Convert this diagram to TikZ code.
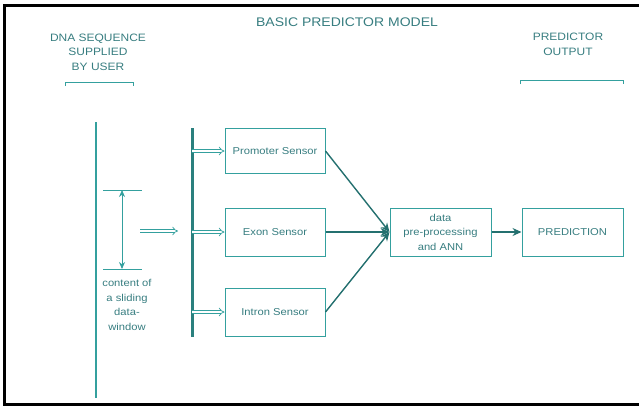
\documentclass[tikz,border=0pt]{standalone}
\usepackage{fontspec}
\setmainfont{Liberation Sans}[FakeStretch=1.12]
\usetikzlibrary{arrows.meta}
\definecolor{tealc}{RGB}{52,160,158}
\definecolor{tealt}{RGB}{55,125,128}
\tikzset{
  box/.style={draw=tealc, line width=1pt, minimum width=100pt, minimum height=48pt, text=tealt, font=\fontsize{10}{14.5}\selectfont, align=center, inner sep=1pt},
  lbl/.style={text=tealt, font=\fontsize{10}{14.5}\selectfont, align=center, inner sep=0pt},
  thin/.style={draw=tealc, line width=0.8pt},
  hollow/.style={draw=tealc, double=white, double distance=2.2pt, line width=0.7pt, -{Implies}},
  feed/.style={draw=tealc!70!black, line width=1.4pt, -{Stealth[length=9pt,width=8pt]}},
}
\begin{document}
\begin{tikzpicture}[x=1pt,y=-1pt]
\useasboundingbox (0,0) rectangle (639,408);
% frame
\draw[line width=2.5pt] (639,5.5) -- (4.5,5.5) -- (4.5,404.5) -- (639,404.5);
% headings
\node[lbl, font=\fontsize{12.5}{14.5}\selectfont] (title) at (347,22) {BASIC PREDICTOR MODEL};
\node[lbl, font=\fontsize{10.7}{14.5}\selectfont] (dna) at (98,52) {DNA SEQUENCE\\SUPPLIED\\BY USER};
\node[lbl, font=\fontsize{10.7}{14.5}\selectfont] (out) at (568,44.5) {PREDICTOR\\OUTPUT};
\draw[thin, line width=0.6pt] (65,86) -- (65,82) -- (133,82) -- (133,86);
\draw[thin, line width=0.6pt] (520,84) -- (520,80) -- (623,80) -- (623,84);
% DNA line
\coordinate (dtop) at (96,122);
\coordinate (dbot) at (96,398);
\draw[thin, line width=1.3pt] (dtop) -- (dbot);
% sliding window marker
\coordinate (t1) at (103,190); \coordinate (t2) at (142,190);
\coordinate (b1) at (103,269); \coordinate (b2) at (142,269);
\draw[thin] (t1) -- (t2);
\draw[thin] (b1) -- (b2);
\coordinate (wt) at (122,190); \coordinate (wb) at (122,269);
\draw[thin, {Stealth[length=7pt,width=6pt]}-{Stealth[length=7pt,width=6pt]}] (wt) -- (wb);
\node[lbl] (win) at (127,305) {content of\\a sliding\\data-\\window};
% input arrow
\coordinate (ia) at (140,231); \coordinate (ib) at (178,231);
\draw[hollow] (ia) -- (ib);
% bar
\coordinate (bartop) at (192,128);
\coordinate (barbot) at (192,337);
\draw[draw=tealc!80!black, line width=3pt] (bartop) -- (barbot);
% sensors
\node[box, minimum height=45pt] (prom) at (275,151) {Promoter Sensor};
\node[box] (exon) at (275,232) {Exon Sensor};
\node[box] (intr) at (275,312) {Intron Sensor};
\coordinate (bp) at (192,151); \coordinate (be) at (192,232); \coordinate (bi) at (192,312);
\draw[hollow] (bp) -- (prom.west);
\draw[hollow] (be) -- (exon.west);
\draw[hollow] (bi) -- (intr.west);
% processing
\node[box, minimum width=101pt] (data) at (440.5,232) {data\\pre-processing\\and ANN};
\node[box, minimum width=101pt] (pred) at (572.5,232) {PREDICTION};
\draw[feed] (prom.east) -- (data.west);
\draw[feed] (exon.east) -- (data.west);
\draw[feed] (intr.east) -- (data.west);
\draw[feed, line width=1.2pt] (data.east) -- (pred.west);
\end{tikzpicture}
\end{document}
